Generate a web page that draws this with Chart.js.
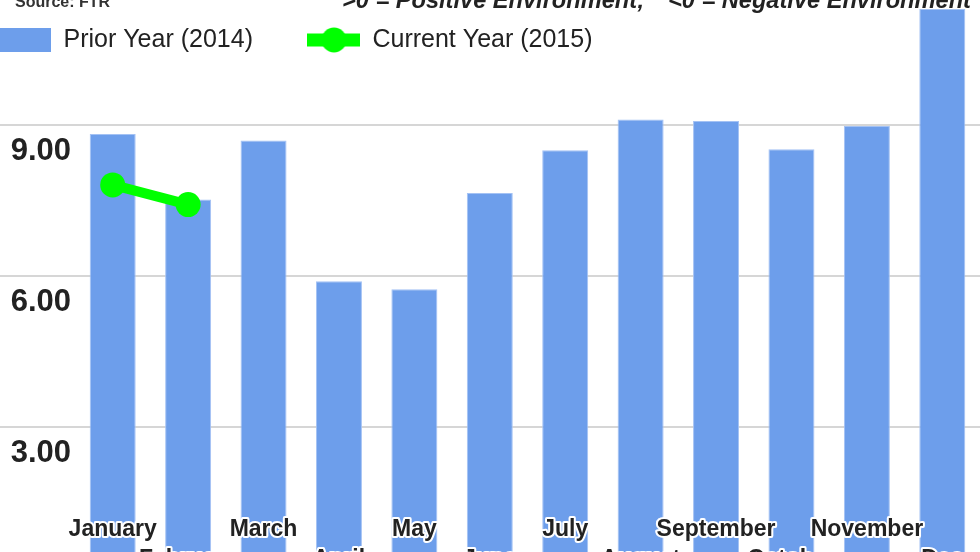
<!DOCTYPE html>
<html>
<head>
<meta charset="utf-8">
<script src="https://cdn.jsdelivr.net/npm/chart.js@4.4.1/dist/chart.umd.min.js"></script>
<style>
  html, body { margin: 0; padding: 0; background: #fff; }
  #wrap { position: relative; width: 980px; height: 552px; overflow: hidden; }
  /* the reference is a crop of a bigger chart, so the canvas sticks out on all sides */
  #chart { position: absolute; left: -51px; top: -40px; }
</style>
</head>
<body>
<div id="wrap"><canvas id="chart" width="1031" height="640"></canvas></div>
<script>
const months = ['January', 'February', 'March', 'April', 'May', 'June', 'July',
  'August', 'September', 'October', 'November', 'Dec'];
const priorYear = [8.82, 7.52, 8.69, 5.90, 5.74, 7.65, 8.50, 9.11, 9.08, 8.52, 8.98, 11.30];
const currentYear = [7.81, 7.42, null, null, null, null, null, null, null, null, null, null];
const yTicks = [0, 3, 6, 9];
const sourceNote = 'Source: FTR';
const envNotes = ['>0 = Positive Environment;', '<0 = Negative Environment'];

const barBlue = '#6d9eeb';
const green = '#00ff00';
const font = '"Liberation Sans", Arial, sans-serif';

Chart.defaults.font.family = font;
Chart.defaults.color = '#222';

// legend marker for the line series: short thick line with a dot
const lineMarker = document.createElement('canvas');
lineMarker.width = 53;
lineMarker.height = 26;
{
  const c = lineMarker.getContext('2d');
  c.fillStyle = green;
  c.fillRect(0, 6.5, 53, 13);
  c.beginPath();
  c.arc(26.5, 13, 12.5, 0, Math.PI * 2);
  c.fill();
}

// round joins so the white halo on the month labels has no miter spikes
const roundJoins = {
  id: 'roundJoins',
  beforeDraw(chart) { chart.ctx.lineJoin = 'round'; },
  afterDatasetsDraw(chart) { chart.ctx.lineJoin = 'round'; }
};

const headerText = {
  id: 'headerText',
  afterDraw(chart) {
    const ctx = chart.ctx;
    ctx.save();
    ctx.textBaseline = 'alphabetic';
    ctx.fillStyle = '#333';
    ctx.font = 'bold 16px ' + font;
    ctx.fillText(sourceNote, 66, 47);
    ctx.fillStyle = '#222';
    ctx.font = 'italic bold 23.6px ' + font;
    ctx.fillText(envNotes[0], 393, 48);
    ctx.fillText(envNotes[1], 719, 48);
    ctx.restore();
  }
};

new Chart(document.getElementById('chart'), {
  type: 'bar',
  data: {
    labels: months.map((m, i) => (i % 2 ? ['', m] : m)),
    datasets: [
      {
        label: 'Prior Year (2014)',
        data: priorYear,
        backgroundColor: barBlue,
        borderColor: '#a4c2f4',
        borderWidth: 1,
        barPercentage: 0.61,
        categoryPercentage: 1,
        clip: false,
        order: 1
      },
      {
        type: 'line',
        label: 'Current Year (2015)',
        data: currentYear,
        borderColor: green,
        backgroundColor: green,
        borderWidth: 10,
        pointRadius: 12.5,
        pointBorderWidth: 0,
        pointBackgroundColor: green,
        order: 0
      }
    ]
  },
  options: {
    responsive: false,
    animation: false,
    devicePixelRatio: 1,
    layout: { autoPadding: false, padding: { top: 12.5, left: -5, right: 0, bottom: 0 } },
    plugins: {
      tooltip: { enabled: false },
      legend: {
        position: 'top',
        align: 'start',
        labels: {
          usePointStyle: true,
          pointStyleWidth: 52,
          boxHeight: 24,
          padding: 55,
          color: '#222',
          font: { size: 25 },
          sort: (a, b) => a.datasetIndex - b.datasetIndex,
          generateLabels(chart) {
            const items = Chart.defaults.plugins.legend.labels.generateLabels(chart);
            items.forEach(item => {
              if (item.datasetIndex === 0) {
                item.pointStyle = 'rect';
                item.lineWidth = 0;
                item.fillStyle = barBlue;
              } else {
                item.pointStyle = lineMarker;
              }
            });
            return items;
          }
        }
      }
    },
    scales: {
      x: {
        afterFit: s => { s.height = 21.5; s.paddingLeft = 0; s.paddingRight = 0; },
        border: { display: false },
        grid: { display: false, drawTicks: false },
        ticks: {
          z: 1,
          mirror: true,
          autoSkip: false,
          maxRotation: 0,
          padding: 34,
          color: '#222',
          font: { size: 23, weight: 'bold', lineHeight: 1.3 },
          textStrokeColor: '#fff',
          textStrokeWidth: 4
        }
      },
      y: {
        min: 0,
        max: 10.24,
        afterBuildTicks: s => { s.ticks = yTicks.map(v => ({ value: v })); },
        afterFit: s => { s.width = 131; },
        border: { display: false },
        grid: { color: '#d6d6d6', lineWidth: 2, drawTicks: true, tickLength: 75, tickColor: '#d6d6d6' },
        ticks: {
          padding: -71,
          labelOffset: 26,
          color: '#222',
          font: { size: 31, weight: 'bold' },
          callback: v => v.toFixed(2)
        }
      }
    }
  },
  plugins: [roundJoins, headerText]
});
</script>
</body>
</html>
